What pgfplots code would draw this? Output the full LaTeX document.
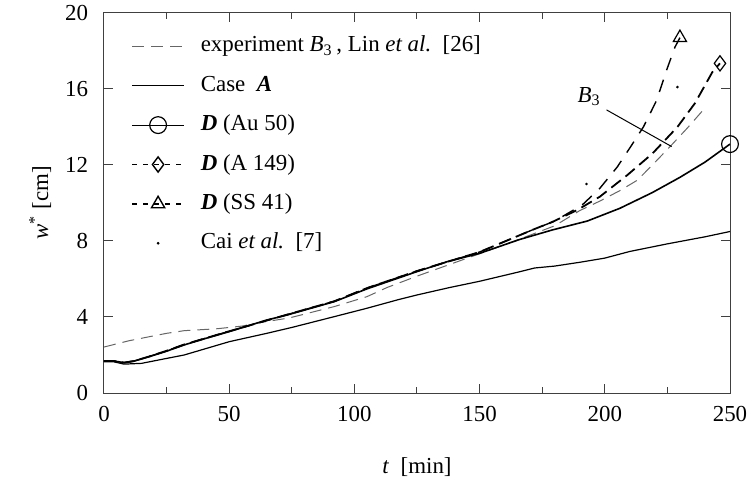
\documentclass[border=0pt]{standalone}
\usepackage{fontspec}
\setmainfont{Liberation Serif}
\usepackage{pgfplots}
\usepackage{pgfplotstable}
\pgfplotsset{compat=1.18}

% deflection w* [cm] against time t [min]
\pgfplotstableread{
t     w
0     2.42
10    2.75
18    2.96
25    3.14
32    3.28
45    3.38
55    3.52
62    3.70
74    3.95
92    4.55
105   5.07
113   5.55
125   6.15
150   7.33
166   8.10
180   8.80
190   9.60
198   10.10
206   10.65
213   11.20
219   12.00
226   12.96
233   13.95
240   15.00
}\expB

\pgfplotstableread{
t     w
0     1.65
4     1.64
8     1.52
15    1.56
25    1.82
32    2.00
50    2.70
65    3.14
75    3.45
92    4.02
105   4.46
118   4.93
125   5.16
138   5.55
150   5.88
165   6.35
172   6.58
180   6.68
190   6.88
200   7.10
210   7.45
225   7.85
240   8.22
250   8.50
}\caseA

\pgfplotstableread{
t     w
0     1.68
4     1.68
8     1.60
12    1.68
18    1.91
25    2.20
32    2.53
40    2.85
50    3.23
65    3.84
73    4.10
92    4.81
105   5.48
125   6.39
137   6.91
150   7.35
166   8.08
179   8.58
193   9.05
206   9.72
219   10.55
230   11.35
240   12.15
250   13.10
}\auD

\pgfplotstableread{
t     w
0     1.68
4     1.68
8     1.60
12    1.68
18    1.92
25    2.22
32    2.55
50    3.25
73    4.12
92    4.83
105   5.52
125   6.42
150   7.42
171   8.58
179   9.00
189   9.63
198   10.33
209   11.47
219   12.60
229   14.00
236   15.25
243   16.90
246   17.35
}\alD

\pgfplotstableread{
t     w
0     1.68
4     1.68
8     1.60
12    1.68
18    1.92
25    2.22
32    2.55
50    3.25
73    4.12
92    4.83
105   5.52
125   6.42
150   7.42
171   8.58
180   9.05
191   9.90
198   10.77
205   11.90
211   13.10
215.4 14.00
220.7 15.40
224.7 17.00
228   18.20
230   18.70
}\ssD

\pgfplotstableread{
t     w
192.7 11.0
229   16.1
}\cai

\begin{document}
\fontsize{11.5}{13.8}\selectfont
\begin{tikzpicture}
\begin{axis}[
  scale only axis,
  width=313bp, height=190bp,
  xmin=0, xmax=250, ymin=0, ymax=20,
  xtick={0,50,...,250}, minor x tick num=1,
  ytick={0,4,...,20},
  major tick length=4.5bp, minor tick length=3bp,
  axis line style={black!75, line width=0.5bp},
  every tick/.style={black!75, line width=0.5bp},
  /pgf/number format/assume math mode=true,
  xticklabel style={yshift=-2.5bp},
  yticklabel style={xshift=-4bp},
  xlabel={\textit{t}~~[min]},
  ylabel={\textit{w}\textsuperscript{*}~[cm]},
  xlabel style={at={(axis description cs:0.5,-0.195)}, anchor=center},
  ylabel style={at={(axis description cs:-0.102,0.5)}, anchor=center},
  legend cell align=left,
  legend image code/.code={%
    \draw[mark repeat=2, mark phase=2, #1]
      plot coordinates {(0bp,0bp) (13bp,0bp) (26bp,0bp)};},
  legend style={draw=none, fill=none, inner xsep=0pt, inner ysep=0pt,
    at={(axis description cs:0,1)}, anchor=north west,
    xshift=13.5bp, yshift=-11.2bp,
    row sep=9.2bp, column sep=8bp,
    nodes={inner sep=0pt, text height=8bp, text depth=2.5bp}},
]
% legend entries
\addlegendimage{black!60, line width=0.5bp, dash pattern=on 6bp off 3.5bp}
\addlegendentry{experiment~\textit{B}\textsubscript{3}\,, Lin \textit{et al.}~~[26]}
\addlegendimage{black, line width=0.6bp}
\addlegendentry{Case~~\textbf{\textit{A}}}
\addlegendimage{black, line width=0.6bp, mark=o, mark size=4.2bp}
\addlegendentry{\textbf{\textit{D}} (Au 50)}
\addlegendimage{black, line width=0.7bp, dash pattern=on 2.5bp off 3bp, mark=diamond, mark size=3.8bp, mark options={solid, fill=white}}
\addlegendentry{\textbf{\textit{D}} (A 149)}
\addlegendimage{black, line width=0.7bp, dash pattern=on 2.5bp off 3bp, mark=triangle, mark size=3.8bp, mark options={solid, fill=white}}
\addlegendentry{\textbf{\textit{D}} (SS 41)}
\addlegendimage{only marks, mark=*, mark size=0.45bp, black}
\addlegendentry{Cai \textit{et al.}~~[7]}

% curves
\addplot[forget plot, black!60, line width=0.5bp, dash pattern=on 6bp off 3.5bp] table[x=t, y=w] {\expB};
\addplot[forget plot, black, line width=0.6bp] table[x=t, y=w] {\caseA};
\addplot[forget plot, black, line width=0.8bp] table[x=t, y=w] {\auD};
\addplot[forget plot, black, line width=0.9bp, dash pattern=on 6bp off 3bp] table[x=t, y=w] {\alD};
\addplot[forget plot, black, line width=0.7bp, dash pattern=on 6.5bp off 5bp] table[x=t, y=w] {\ssD};
% end markers
\addplot[forget plot, only marks, mark=o, mark size=4.2bp, black, line width=0.6bp, fill=white] coordinates {(250,13.1)};
\addplot[forget plot, only marks, mark=diamond, mark size=3.8bp, black, line width=0.6bp, mark options={fill=white}] coordinates {(246,17.35)};
\addplot[forget plot, only marks, mark=triangle, mark size=3.8bp, black, line width=0.6bp, mark options={fill=white}] coordinates {(230,18.7)};
\addplot[forget plot, only marks, mark=*, mark size=0.45bp, black] table[x=t, y=w] {\cai};

% label of the experimental curve
\node at (axis cs:193.7,15.6) {\textit{B}\textsubscript{3}};
\draw[black, line width=0.5bp] (axis cs:200.7,14.9) -- (axis cs:226.7,12.97);
\end{axis}
\pgfresetboundingbox
\path[use as bounding box] ([xshift=-52bp,yshift=-44bp]current axis.south west)
  rectangle ([xshift=10bp,yshift=6.5bp]current axis.north east);
\end{tikzpicture}
\end{document}
